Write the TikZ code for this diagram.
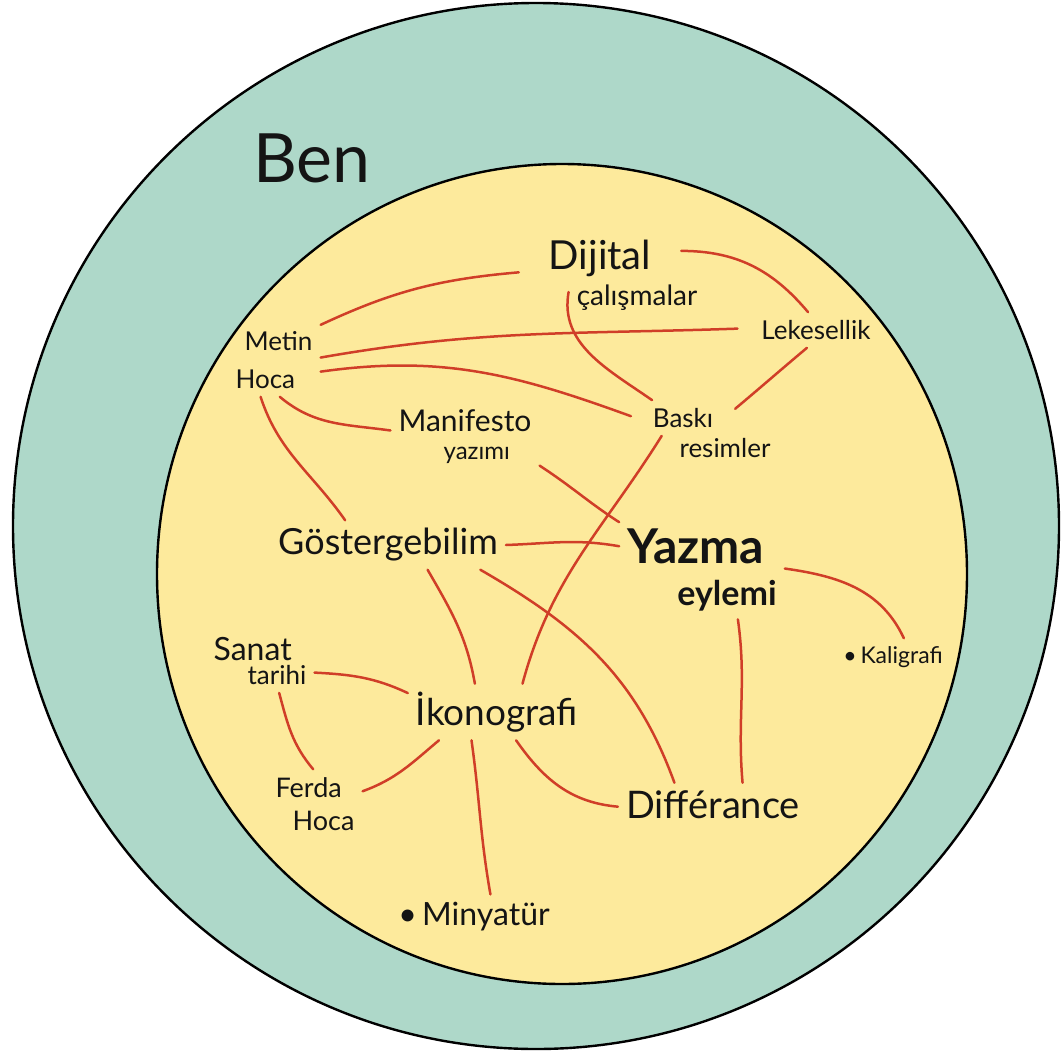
\documentclass[tikz,border=0pt]{standalone}
\usepackage{fontspec}
\setmainfont{Lato}
\definecolor{benteal}{RGB}{174,216,201}
\definecolor{innerfill}{RGB}{253,234,156}
\definecolor{linkred}{RGB}{208,62,40}
\newcommand{\lblsize}[2]{\fontsize{#1}{#2}\selectfont}

\begin{document}
\begin{tikzpicture}[
  x=1pt, y=1pt,
  concept/.style={inner sep=8pt, align=left, text=black!92},
  link/.style={draw=linkred, line width=2.5pt, line cap=round},
  ring/.style={draw=black, line width=2.4pt},
]
\useasboundingbox (0,0) rectangle (1062,-1052);

% Rings (outer: me, inner: topics)
\draw[ring, fill=benteal] (536,-526) circle (523);
\draw[ring, fill=innerfill] (562,-574) ellipse [x radius=405, y radius=410];

\node[concept, font=\lblsize{68}{68}] (ben) at (312,-158) {Ben};

% Concepts (top half)
\node[concept, font=\lblsize{40}{40}, outer xsep=22pt] (dij) at (600,-258) {Dijital};
\node[concept, font=\lblsize{28}{28}] (dijcal) at (637,-298) {çalışmalar};
\node[concept, font=\lblsize{26}{38}] (metin) at (274,-360)
  {\hspace*{9pt}Metin\\Hoca};
\node[concept, font=\lblsize{26}{26}, outer xsep=16pt] (leke) at (816,-330) {Lekesellik};
\node[concept, font=\lblsize{24}{28}] (mani) at (465,-437)
  {{\lblsize{30}{28}Manifesto}\\\hspace*{45pt}yazımı};
\node[concept, font=\lblsize{26}{26}, outer xsep=14pt] (bask) at (683,-418) {Baskı};
\node[concept, font=\lblsize{26}{26}] (baskres) at (725,-448) {resimler};

% Concepts (middle)
\node[concept, font=\lblsize{36}{36}] (gost) at (388,-545) {Göstergebilim};
\node[concept, font=\bfseries\lblsize{34}{42}] (yazma) at (702,-570)
  {{\lblsize{48}{42}Yazma}\\\hspace*{50pt}eylemi};
\node[concept, font=\lblsize{23}{23}] (kali) at (893,-657) {\textbullet\,Kaligrafi};

% Concepts (bottom half)
\node[concept, font=\lblsize{26}{24}] (sanat) at (260,-661)
  {{\lblsize{32}{24}Sanat}\\\hspace*{34pt}tarihi};
\node[concept, font=\lblsize{37}{37}] (ikon) at (497,-712) {İkonografi};
\node[concept, font=\lblsize{27}{33}] (ferda) at (315,-804)
  {Ferda\\\hspace*{17pt}Hoca};
\node[concept, font=\lblsize{38}{38}] (diff) at (713,-805) {Différance};
\node[concept, font=\lblsize{32}{32}] (miny) at (474,-917) {\textbullet\,Minyatür};

% Links: from/anchor/to/anchor/out/in
\foreach \a/\oa/\b/\ib/\o/\i in {
  metin/37/dij/190/25/185,
  dij/5/leke/114/0/130,
  metin/3/leke/179/10/182,
  metin/-14/bask/178/8/160,
  dijcal/175/bask/150/-100/145,
  leke/243/bask/10/220/40,
  metin/-81/mani/175/-40/172,
  metin/250/gost/150/-72/125,
  mani/-21/yazma/150/-33/147,
  gost/0/yazma/164/2/170,
  bask/220/ikon/48/-122/75,
  gost/-32/ikon/128/-60/100,
  gost/-15/diff/150/-30/110,
  yazma/1/kali/60/-8/115,
  yazma/-54/diff/37/-82/95,
  sanat/-12/ikon/168/-3/155,
  sanat/-59/ferda/93/-75/130,
  ikon/206/ferda/15/-140/20,
  ikon/-56/diff/181/-55/175,
  ikon/228/miny/54/-82/100}
  \draw[link] (\a.\oa) to[out=\o, in=\i] (\b.\ib);

\end{tikzpicture}
\end{document}
